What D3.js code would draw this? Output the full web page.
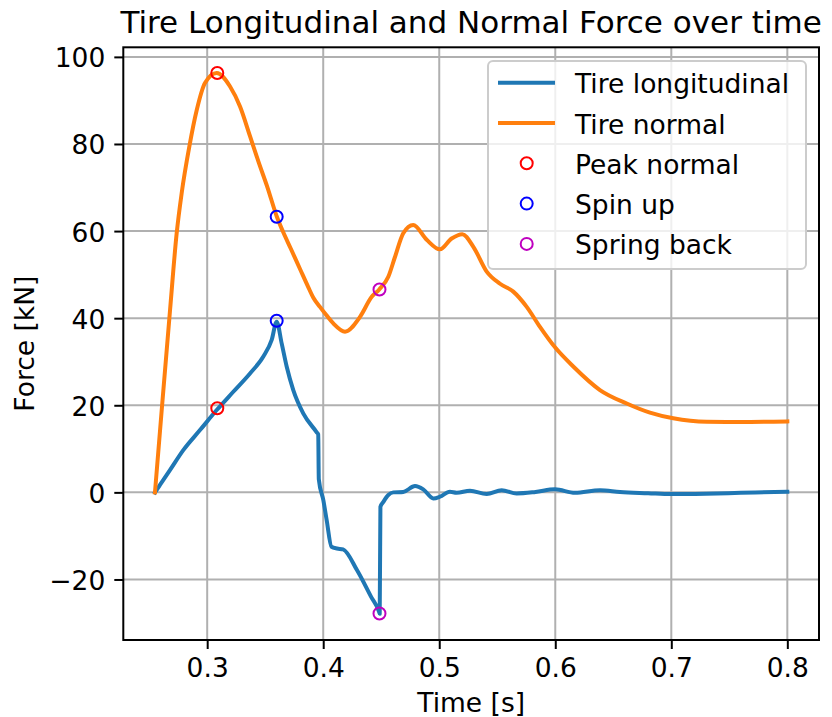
<!DOCTYPE html>
<html>
<head>
<meta charset="utf-8">
<script src="https://cdn.jsdelivr.net/npm/d3@7"></script>
<style>
  html, body { margin: 0; padding: 0; background: #fff; }
  svg { display: block; font-family: "DejaVu Sans", sans-serif; }
</style>
</head>
<body>
<svg id="chart" width="832" height="717"></svg>
<script>
// ---------- data ----------
const longTime = [0.255, 0.2593, 0.2679, 0.2794, 0.2938, 0.3082, 0.3225, 0.3369, 0.3484, 0.3556, 0.3599,
  0.3642, 0.3685, 0.3742, 0.3829, 0.3944, 0.3957, 0.3962, 0.4001, 0.4030, 0.4071, 0.4120, 0.4171, 0.4292, 0.4413, 0.4481, 0.4487,
  0.4493, 0.4518, 0.4561, 0.4604, 0.4690, 0.4791, 0.4862, 0.4949, 0.5006, 0.5092, 0.515, 0.5265, 0.5409, 0.5538, 0.5667,
  0.5830, 0.5998, 0.6170, 0.6386, 0.6558, 0.6800, 0.6999, 0.7300, 0.7600, 0.8000];
const longForce = [0, 1.7, 5.1, 9.7, 14.3, 18.9, 23.1, 27.3, 31.2, 35.0, 39.2,
  34.2, 28.9, 23.5, 18.1, 13.8, 13.3, 3.0, -1.8, -6.4, -12.5, -12.9, -13.1, -17.9, -24.0, -27.4, -27.9,
  -3.3, -2.2, -0.6, 0.0, 0.1, 1.45, 0.7, -1.4, -1.0, 0.15, -0.1, 0.37, -0.4, 0.5, -0.25,
  0.1, 0.7, -0.1, 0.5, 0.07, -0.2, -0.4, -0.3, -0.1, 0.15];

const normTime = [0.255, 0.2608, 0.2680, 0.2737, 0.2780, 0.2846, 0.2910, 0.2981, 0.3082, 0.3197, 0.3283, 0.3369,
  0.3441, 0.3520, 0.3599, 0.3651, 0.3720, 0.3800, 0.3870, 0.3915, 0.3972, 0.4030, 0.4087, 0.4188, 0.4317, 0.4418, 0.4483,
  0.4561, 0.4619, 0.4690, 0.4776, 0.4892, 0.5006, 0.5107, 0.5199, 0.5294, 0.5409, 0.5524, 0.5638, 0.5754, 0.5868,
  0.5998, 0.6155, 0.6385, 0.6616, 0.6816, 0.7017, 0.7305, 0.7592, 0.8000];
const normForce = [0, 18.9, 41.9, 59.5, 68.7, 79.4, 87.8, 94.0, 96.3, 93.2, 88.6, 81.8,
  76.0, 70.0, 63.4, 60.0, 56.0, 51.3, 47.2, 44.7, 42.6, 40.6, 38.8, 36.9, 40.3, 44.9, 46.6,
  49.5, 54.1, 59.5, 61.4, 58.0, 55.8, 58.3, 59.3, 56.4, 50.7, 47.9, 46.1, 42.6, 38.0,
  33.3, 28.9, 23.5, 20.4, 18.3, 17.0, 16.2, 16.15, 16.3];

const eventNames = ["Peak normal", "Spin up", "Spring back"];
const eventColors = ["#ff0000", "#0000ff", "#bf00bf"];
const eventTime = [0.3087, 0.3599, 0.4485];
const eventLong = [19.3, 39.4, -27.8];
const eventNorm = [96.3, 63.3, 46.6];

const seriesNames = ["Tire longitudinal", "Tire normal"];
const seriesColors = ["#1f77b4", "#ff7f0e"];

const xTicks = [0.3, 0.4, 0.5, 0.6, 0.7, 0.8];
const yTicks = [-20, 0, 20, 40, 60, 80, 100];

const titleText = "Tire Longitudinal and Normal Force over time";
const xLabel = "Time [s]";
const yLabel = "Force [kN]";

// ---------- layout ----------
const plot = { left: 123.3, right: 819, top: 47.3, bottom: 640 };
const FS = 26.5;

const svg = d3.select("#chart");
const x = d3.scaleLinear().domain([0.2277, 0.8273]).range([plot.left, plot.right]);
const y = d3.scaleLinear().domain([-33.9, 102.2]).range([plot.bottom, plot.top]);

// grid
const grid = svg.append("g");
grid.selectAll("line.gx").data(xTicks).join("line")
  .attr("x1", d => x(d)).attr("x2", d => x(d))
  .attr("y1", plot.top).attr("y2", plot.bottom)
  .attr("stroke", "#b0b0b0").attr("stroke-width", 2);
grid.selectAll("line.gy").data(yTicks).join("line")
  .attr("y1", d => y(d)).attr("y2", d => y(d))
  .attr("x1", plot.left).attr("x2", plot.right)
  .attr("stroke", "#b0b0b0").attr("stroke-width", 2);

// lines
svg.append("clipPath").attr("id", "clip").append("rect")
  .attr("x", plot.left).attr("y", plot.top)
  .attr("width", plot.right - plot.left).attr("height", plot.bottom - plot.top);

const lineGen = d3.line().x(d => x(d[0])).y(d => y(d[1])).curve(d3.curveMonotoneX);
const longData = longTime.map((t, i) => [t, longForce[i]]);
const normData = normTime.map((t, i) => [t, normForce[i]]);
const g = svg.append("g").attr("clip-path", "url(#clip)");
g.append("path").attr("d", lineGen(longData)).attr("fill", "none")
  .attr("stroke", seriesColors[0]).attr("stroke-width", 4).attr("stroke-linejoin", "round").attr("stroke-linecap", "square");
g.append("path").attr("d", lineGen(normData)).attr("fill", "none")
  .attr("stroke", seriesColors[1]).attr("stroke-width", 4).attr("stroke-linejoin", "round").attr("stroke-linecap", "square");

// markers
eventTime.forEach((t, i) => {
  [eventNorm[i], eventLong[i]].forEach(v => {
    g.append("circle").attr("cx", x(t)).attr("cy", y(v)).attr("r", 6)
      .attr("fill", "none").attr("stroke", eventColors[i]).attr("stroke-width", 2);
  });
});

// axes
const xAxis = d3.axisBottom(x).tickValues(xTicks).tickSize(9).tickPadding(9).tickFormat(d3.format(".1f"));
const yAxis = d3.axisLeft(y).tickValues(yTicks).tickSize(9).tickPadding(9).tickFormat(d => d < 0 ? "\u2212" + Math.abs(d) : d);
const gx = svg.append("g").attr("transform", `translate(0,${plot.bottom})`).call(xAxis);
const gy = svg.append("g").attr("transform", `translate(${plot.left},0)`).call(yAxis);
[gx, gy].forEach(a => {
  a.select(".domain").remove();
  a.selectAll(".tick line").attr("stroke", "#000").attr("stroke-width", 2);
  a.selectAll(".tick text").attr("fill", "#000").attr("font-size", FS).attr("font-family", "DejaVu Sans");
});
gx.selectAll(".tick text").attr("dy", null).attr("y", 36.7);
gy.selectAll(".tick text").attr("dy", null).attr("y", 10).attr("x", -18);

// spines
svg.append("rect").attr("x", plot.left).attr("y", plot.top)
  .attr("width", plot.right - plot.left).attr("height", plot.bottom - plot.top)
  .attr("fill", "none").attr("stroke", "#000").attr("stroke-width", 2);

// labels
svg.append("text").attr("x", (plot.left + plot.right) / 2).attr("y", 33)
  .attr("text-anchor", "middle").attr("font-size", 31).text(titleText);
svg.append("text").attr("x", (plot.left + plot.right) / 2).attr("y", 712)
  .attr("text-anchor", "middle").attr("font-size", FS).text(xLabel);
svg.append("text").attr("transform", `translate(34,${(plot.top + plot.bottom) / 2}) rotate(-90)`)
  .attr("text-anchor", "middle").attr("font-size", FS).text(yLabel);

// legend
const lg = svg.append("g");
lg.append("rect").attr("x", 488).attr("y", 61).attr("width", 318).attr("height", 208)
  .attr("rx", 5).attr("fill", "#fff").attr("fill-opacity", 0.8)
  .attr("stroke", "#cccccc").attr("stroke-width", 2);
const rowY = i => 82.7 + i * 40.3;
const labels = seriesNames.concat(eventNames);
labels.forEach((name, i) => {
  if (i < 2) {
    lg.append("line").attr("x1", 498).attr("x2", 555).attr("y1", rowY(i)).attr("y2", rowY(i))
      .attr("stroke", seriesColors[i]).attr("stroke-width", 4);
  } else {
    lg.append("circle").attr("cx", 526.7).attr("cy", rowY(i)).attr("r", 6)
      .attr("fill", "none").attr("stroke", eventColors[i - 2]).attr("stroke-width", 2);
  }
  lg.append("text").attr("x", 575).attr("y", rowY(i) + 10.5).attr("font-size", FS).text(name);
});
</script>
</body>
</html>
